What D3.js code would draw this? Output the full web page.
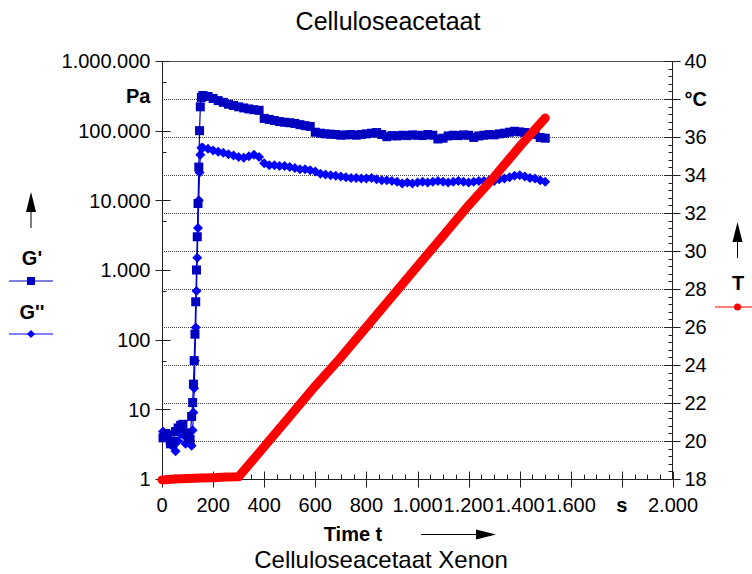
<!DOCTYPE html>
<html>
<head>
<meta charset="utf-8">
<script src="https://cdn.jsdelivr.net/npm/d3@7"></script>
<style>
  body { margin: 0; background: #fff; }
  text { font-family: "Liberation Sans", Arial, sans-serif; fill: #000; }
</style>
</head>
<body>
<svg width="752" height="574"></svg>
<script>
// measuring time (s), shared by G' and G''
var time = [4, 14, 23, 33, 43, 53, 63, 73, 82, 92, 102, 110, 116, 120, 123, 126, 129, 132, 135, 138, 141, 144, 147, 150, 154,
  160, 180, 200, 220, 240, 260, 280, 300, 320, 340, 360, 380, 400, 420, 440, 460, 480, 500, 520, 540, 560, 580,
  600, 620, 640, 660, 680, 700, 720, 740, 760, 780, 800, 820, 840, 860, 880, 900, 920, 940, 960, 980,
  1000, 1020, 1040, 1060, 1080, 1100, 1120, 1140, 1160, 1180, 1200, 1220, 1240, 1260, 1280, 1300,
  1320, 1340, 1360, 1380, 1400, 1420, 1440, 1460, 1480, 1500];

// storage modulus G' (Pa)
var gStorage = [3.9, 4.5, 4.3, 3.2, 3.5, 4.8, 5.4, 5.9, 6.1, 4.6, 4.0, 3.7, 7.9, 12.5, 23, 50, 120, 350, 1000, 3000, 9000, 30000, 100000, 220000, 300000,
  320000, 310000, 290000, 270000, 255000, 240000, 230000, 220000, 212000, 205000, 200000, 196000, 150000, 145000, 140000, 135000, 132000, 130000, 127000, 122000, 118000, 115000,
  95000, 92000, 90000, 89000, 88000, 86000, 87000, 88000, 86000, 88000, 90000, 92000, 94000, 88000, 82000, 85000, 84000, 86000, 85000, 87000,
  86000, 85000, 88000, 86000, 76000, 78000, 84000, 86000, 85000, 87000, 86000, 80000, 84000, 86000, 88000, 87000,
  90000, 92000, 95000, 98000, 96000, 94000, 92000, 88000, 80000, 78000];

// loss modulus G'' (Pa)
var gLoss = [4.8, 4.0, 3.7, 3.2, 2.9, 2.5, 3.5, 4.5, 4.3, 3.2, 3.9, 3.5, 3.0, 5, 9, 20, 50, 150, 500, 1500, 4000, 10000, 25000, 45000, 57000,
  57000, 55000, 52000, 50000, 48000, 46000, 44000, 42000, 41000, 43000, 45000, 42000, 34000, 32000, 32000, 31000, 31000, 30000, 29000, 28000, 28000, 27000,
  26000, 24000, 23500, 23000, 22500, 22000, 21500, 21000, 21000, 20500, 20500, 21000, 20000, 19500, 19500, 19000, 18500, 17500, 18000, 17500,
  18000, 18500, 18000, 18500, 19000, 18500, 18000, 18500, 19000, 18500, 18000, 18500, 19000, 19000, 19500, 19000,
  20000, 20500, 21500, 22500, 23000, 22000, 21000, 20500, 19500, 18500];

// temperature T (°C)
var tempTime = [0, 50, 100, 150, 200, 250, 300, 400, 500, 600, 700, 800, 900, 1000, 1100, 1200, 1300, 1400, 1500];
var tempValues = [17.95, 18.0, 18.03, 18.05, 18.07, 18.1, 18.12, 19.7, 21.3, 22.9, 24.4, 26.0, 27.6, 29.2, 30.8, 32.4, 33.9, 35.5, 37.0];

var xTicks = [0, 200, 400, 600, 800, 1000, 1200, 1400, 1600, 1800, 2000];
var xTickLabels = ["0", "200", "400", "600", "800", "1.000", "1.200", "1.400", "1.600", "s", "2.000"];
var yTicks = [1, 10, 100, 1000, 10000, 100000, 1000000];
var yTickLabels = ["1", "10", "100", "1.000", "10.000", "100.000", "1.000.000"];
var tTicks = [18, 20, 22, 24, 26, 28, 30, 32, 34, 36, 38, 40];
var tTickLabels = ["18", "20", "22", "24", "26", "28", "30", "32", "34", "36", "°C", "40"];

var svg = d3.select("svg");
var plotLeft = 162, plotRight = 673, plotTop = 61, plotBottom = 479;
var fs = "20px";

var x = d3.scaleLinear().domain([0, 2000]).range([plotLeft, plotRight]);
var y = d3.scaleLog().domain([1, 1000000]).range([plotBottom, plotTop]);
var yT = d3.scaleLinear().domain([18, 40]).range([plotBottom, plotTop]);

var darkBlue = "#0000c0", blue = "#0000ff", red = "#ff0000";

// dotted grid lines from the temperature axis
svg.append("g")
  .selectAll("line")
  .data(tTicks.filter(d => d > 18 && d < 40))
  .enter().append("line")
    .attr("x1", plotLeft).attr("x2", plotRight)
    .attr("y1", d => Math.round(yT(d)) + 0.5).attr("y2", d => Math.round(yT(d)) + 0.5)
    .attr("stroke", "#444").attr("stroke-dasharray", "1,1");

// frame line on top
svg.append("line").attr("x1", plotLeft).attr("x2", plotRight).attr("y1", plotTop + 0.5).attr("y2", plotTop + 0.5).attr("stroke", "#555");

// left axis
var gl = svg.append("g").attr("transform", "translate(" + (plotLeft + 0.5) + ",0)");
gl.append("line").attr("y1", plotTop).attr("y2", plotBottom).attr("stroke", "#222");
gl.selectAll(".maj").data(yTicks).enter().append("line")
  .attr("x1", -7).attr("x2", 8).attr("y1", d => Math.round(y(d)) + 0.5).attr("y2", d => Math.round(y(d)) + 0.5)
  .attr("stroke", "#222");
gl.selectAll(".min").data(yTicks.slice(0, -1).map(d => d * 5)).enter().append("line")
  .attr("x1", 0).attr("x2", 4).attr("y1", d => Math.round(y(d)) + 0.5).attr("y2", d => Math.round(y(d)) + 0.5)
  .attr("stroke", "#222");
gl.selectAll("text.lab").data(yTicks).enter().append("text")
  .attr("x", -12).attr("y", d => y(d)).attr("dy", "0.36em")
  .attr("text-anchor", "end").style("font-size", fs)
  .text((d, i) => yTickLabels[i]);
gl.append("text").attr("x", -12).attr("y", y(Math.sqrt(10) * 100000)).attr("dy", "0.36em")
  .attr("text-anchor", "end").style("font-size", fs).style("font-weight", "bold").text("Pa");

// right axis
var gr = svg.append("g").attr("transform", "translate(" + (plotRight - 0.5) + ",0)");
gr.append("line").attr("y1", plotTop).attr("y2", plotBottom).attr("stroke", "#222");
gr.selectAll(".min").data(d3.range(18, 40.01, 0.4)).enter().append("line")
  .attr("x1", -4).attr("x2", 0).attr("y1", d => Math.round(yT(d)) + 0.5).attr("y2", d => Math.round(yT(d)) + 0.5)
  .attr("stroke", "#222");
gr.selectAll(".maj").data(tTicks).enter().append("line")
  .attr("x1", -8).attr("x2", 8).attr("y1", d => Math.round(yT(d)) + 0.5).attr("y2", d => Math.round(yT(d)) + 0.5)
  .attr("stroke", "#222");
gr.selectAll("text").data(tTicks).enter().append("text")
  .attr("x", 12).attr("y", d => yT(d)).attr("dy", "0.36em")
  .style("font-size", fs).style("font-weight", (d, i) => tTickLabels[i] === "°C" ? "bold" : "normal")
  .text((d, i) => tTickLabels[i]);

// bottom axis
var gb = svg.append("g").attr("transform", "translate(0," + (plotBottom + 0.5) + ")");
gb.append("line").attr("x1", plotLeft).attr("x2", plotRight).attr("stroke", "#222");
gb.selectAll(".min").data(d3.range(0, 2001, 50)).enter().append("line")
  .attr("x1", d => Math.round(x(d)) + 0.5).attr("x2", d => Math.round(x(d)) + 0.5)
  .attr("y1", -5).attr("y2", 0).attr("stroke", "#222");
gb.selectAll(".maj").data(xTicks).enter().append("line")
  .attr("x1", d => Math.round(x(d)) + 0.5).attr("x2", d => Math.round(x(d)) + 0.5)
  .attr("y1", -8).attr("y2", 8).attr("stroke", "#222");
gb.selectAll("text").data(xTicks).enter().append("text")
  .attr("x", d => x(d)).attr("y", 32)
  .attr("text-anchor", "middle").style("font-size", fs)
  .style("font-weight", (d, i) => xTickLabels[i] === "s" ? "bold" : "normal")
  .text((d, i) => xTickLabels[i]);

// axis title and arrow
svg.append("text").attr("x", 353).attr("y", 541).attr("text-anchor", "middle")
  .style("font-size", fs).style("font-weight", "bold").text("Time t");
svg.append("line").attr("x1", 421).attr("x2", 478).attr("y1", 534.5).attr("y2", 534.5).attr("stroke", "#000");
svg.append("path").attr("d", "M476,529.5L496,534.5L476,539.5Z").attr("fill", "#000");

// titles
svg.append("text").attr("x", 388).attr("y", 30).attr("text-anchor", "middle").style("font-size", "25px").text("Celluloseacetaat");
svg.append("text").attr("x", 381).attr("y", 568).attr("text-anchor", "middle").style("font-size", "24px").text("Celluloseacetaat Xenon");

// data series
var gp = time.map((t, i) => [t, gStorage[i]]);
var gpp = time.map((t, i) => [t, gLoss[i]]);
var temp = tempTime.map((t, i) => [t, tempValues[i]]);

var lineLog = d3.line().x(d => x(d[0])).y(d => y(d[1]));
var lineT = d3.line().x(d => x(d[0])).y(d => yT(d[1]));

svg.append("path").datum(gpp).attr("d", lineLog).attr("fill", "none").attr("stroke", blue).attr("stroke-width", 1.2);
svg.append("g").selectAll("path").data(gpp).enter().append("path")
  .attr("transform", d => "translate(" + x(d[0]) + "," + y(d[1]) + ")")
  .attr("d", "M0,-5L5,0L0,5L-5,0Z").attr("fill", blue);

svg.append("path").datum(gp).attr("d", lineLog).attr("fill", "none").attr("stroke", darkBlue).attr("stroke-width", 1.2);
svg.append("g").selectAll("rect").data(gp).enter().append("rect")
  .attr("x", d => x(d[0]) - 4.5).attr("y", d => y(d[1]) - 4.5)
  .attr("width", 9).attr("height", 9).attr("fill", darkBlue);

svg.append("path").datum(temp).attr("d", lineT).attr("fill", "none")
  .attr("stroke", red).attr("stroke-width", 9).attr("stroke-linecap", "round").attr("stroke-linejoin", "round");

// legends
function upArrow(cx, tip) {
  svg.append("path").attr("d", "M" + cx + "," + tip + "L" + (cx + 5) + "," + (tip + 20) + "L" + (cx - 5) + "," + (tip + 20) + "Z").attr("fill", "#000");
  svg.append("line").attr("x1", cx).attr("x2", cx).attr("y1", tip + 18).attr("y2", tip + 36).attr("stroke", "#000");
}
upArrow(31, 192);
svg.append("text").attr("x", 32).attr("y", 265).attr("text-anchor", "middle").style("font-size", fs).style("font-weight", "bold").text("G'");
svg.append("line").attr("x1", 9).attr("x2", 53).attr("y1", 281).attr("y2", 281).attr("stroke", darkBlue);
svg.append("rect").attr("x", 27).attr("y", 277).attr("width", 8).attr("height", 8).attr("fill", darkBlue);
svg.append("text").attr("x", 32).attr("y", 319).attr("text-anchor", "middle").style("font-size", fs).style("font-weight", "bold").text("G''");
svg.append("line").attr("x1", 9).attr("x2", 53).attr("y1", 334).attr("y2", 334).attr("stroke", blue);
svg.append("path").attr("d", "M31,330L35,334L31,338L27,334Z").attr("fill", blue);

upArrow(737.5, 222);
svg.append("text").attr("x", 738).attr("y", 290).attr("text-anchor", "middle").style("font-size", fs).style("font-weight", "bold").text("T");
svg.append("line").attr("x1", 715).attr("x2", 752).attr("y1", 307).attr("y2", 307).attr("stroke", red);
svg.append("circle").attr("cx", 737.5).attr("cy", 307).attr("r", 3.5).attr("fill", red);
</script>
</body>
</html>
